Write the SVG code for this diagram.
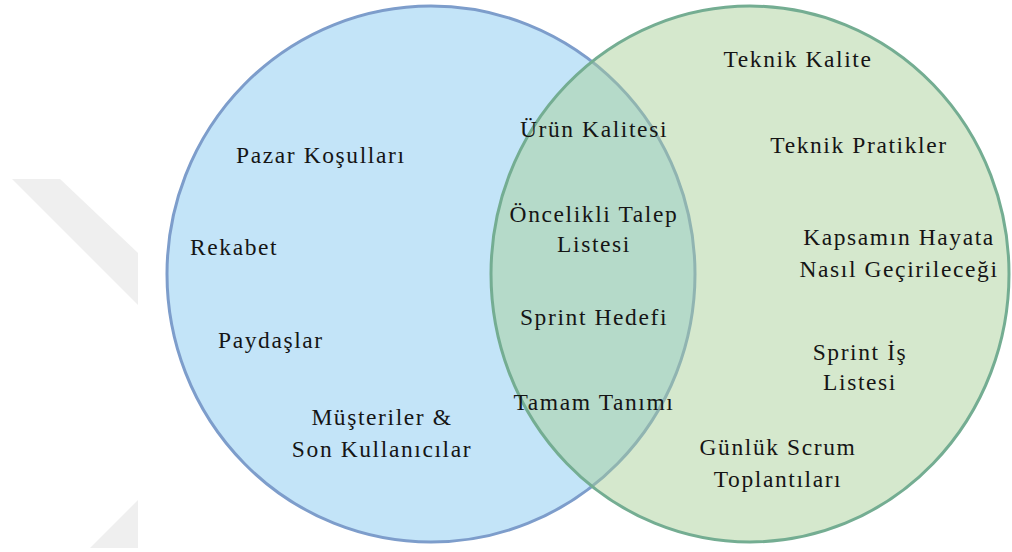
<svg xmlns="http://www.w3.org/2000/svg" width="1012" height="552" viewBox="0 0 1012 552">
  <style>
    .lbl { font-family: "Liberation Serif", "Times New Roman", serif; font-size: 23.5px; letter-spacing: 1.6px; fill: #151515; }
    .mid { text-anchor: middle; }
    .wm { fill: #efefef; }
  </style>
  <rect width="1012" height="552" fill="#ffffff"/>
  <g id="watermark">
    <polygon class="wm" points="12,179 60,179 138,253 138,305"/>
    <polygon class="wm" points="90,548 138,500 138,548"/>
  </g>
  <g id="set-left">
    <ellipse cx="431" cy="274" rx="264" ry="268" fill="#c3e4f8" stroke="#7d9dcb" stroke-width="3"/>
  </g>
  <g id="set-right">
    <ellipse cx="750" cy="274" rx="259" ry="268" fill="#a5ce94" fill-opacity="0.47" stroke="#74ad92" stroke-width="3"/>
  </g>
  <g id="left-labels">
    <g id="pazar"><text class="lbl" x="236" y="163">Pazar Koşulları</text></g>
    <g id="rekabet"><text class="lbl" x="190" y="255">Rekabet</text></g>
    <g id="paydaslar"><text class="lbl" x="218" y="348">Paydaşlar</text></g>
    <g id="musteriler">
      <text class="lbl mid" x="382" y="425">Müşteriler &amp;</text>
      <text class="lbl mid" x="382" y="457">Son Kullanıcılar</text>
    </g>
  </g>
  <g id="shared-labels">
    <g id="urun"><text class="lbl mid" x="594" y="137">Ürün Kalitesi</text></g>
    <g id="oncelikli">
      <text class="lbl mid" x="594" y="222">Öncelikli Talep</text>
      <text class="lbl mid" x="594" y="252">Listesi</text>
    </g>
    <g id="sprint-hedefi"><text class="lbl mid" x="594" y="325">Sprint Hedefi</text></g>
    <g id="tamam"><text class="lbl mid" x="594" y="410">Tamam Tanımı</text></g>
  </g>
  <g id="right-labels">
    <g id="teknik-kalite"><text class="lbl mid" x="798" y="67">Teknik Kalite</text></g>
    <g id="teknik-pratikler"><text class="lbl mid" x="859" y="153">Teknik Pratikler</text></g>
    <g id="kapsam">
      <text class="lbl mid" x="899" y="245">Kapsamın Hayata</text>
      <text class="lbl mid" x="899" y="277">Nasıl Geçirileceği</text>
    </g>
    <g id="sprint-is">
      <text class="lbl mid" x="860" y="360">Sprint İş</text>
      <text class="lbl mid" x="860" y="390">Listesi</text>
    </g>
    <g id="gunluk">
      <text class="lbl mid" x="778" y="455">Günlük Scrum</text>
      <text class="lbl mid" x="778" y="487">Toplantıları</text>
    </g>
  </g>
</svg>
